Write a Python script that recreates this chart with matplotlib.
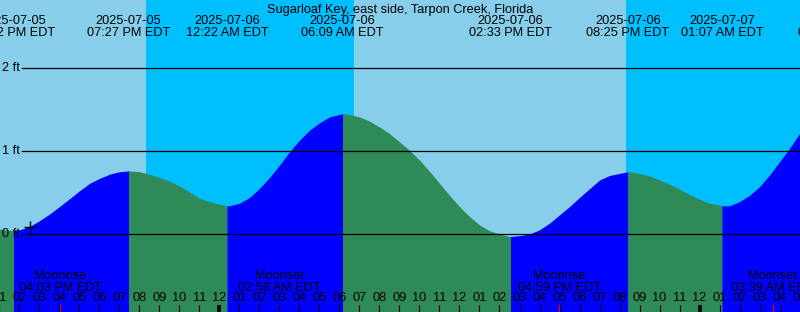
# Tide graph for Sugarloaf Key, east side, Tarpon Creek (XTide style)
import numpy as np
import matplotlib.pyplot as plt
import matplotlib.transforms as mtransforms

plt.rcParams['font.family'] = ['Liberation Sans', 'DejaVu Sans']

title = 'Sugarloaf Key, east side, Tarpon Creek, Florida'

# hours counted from 2025-07-05 00:00 EDT, readings every half hour
hour_start = 13
halfhour_height = [
    0.06, 0.045, 0.05, 0.09, 0.16, 0.24, 0.33, 0.425, 0.52, 0.61,   # 13:00-17:30
    0.67, 0.72, 0.75, 0.76, 0.75, 0.72, 0.68, 0.635, 0.58, 0.505,   # 18:00-22:30
    0.43, 0.39, 0.36, 0.34, 0.37, 0.44, 0.55, 0.68, 0.83, 0.99,     # 23:00-03:30
    1.13, 1.25, 1.34, 1.41, 1.44, 1.44, 1.41, 1.36, 1.29, 1.21,     # 04:00-08:30
    1.11, 1.01, 0.89, 0.755, 0.61, 0.465, 0.33, 0.21, 0.11, 0.04,   # 09:00-13:30
    0.00, -0.03, -0.02, 0.00, 0.05, 0.13, 0.23, 0.33, 0.44, 0.545,  # 14:00-18:30
    0.65, 0.705, 0.73, 0.75, 0.73, 0.70, 0.65, 0.60, 0.54, 0.475,   # 19:00-23:30
    0.42, 0.37, 0.35, 0.34, 0.39, 0.465, 0.57, 0.71, 0.87, 1.03,    # 00:00-04:30
    1.21]                                                           # 05:00

# high / low tide events
event_hour = [13.70, 19.45, 24.37, 30.15, 38.55, 44.42, 49.12, 54.98]
event_height = [0.04, 0.76, 0.34, 1.45, -0.03, 0.75, 0.34, 1.50]
event_date = ['2025-07-05', '2025-07-05', '2025-07-06', '2025-07-06',
              '2025-07-06', '2025-07-06', '2025-07-07', '2025-07-07']
event_time = ['01:42 PM EDT', '07:27 PM EDT', '12:22 AM EDT', '06:09 AM EDT',
              '02:33 PM EDT', '08:25 PM EDT', '01:07 AM EDT', '06:59 AM EDT']

# night periods (sunset -> sunrise)
night_start = [20.32, 44.32]
night_end = [30.72, 60.0]

# moon events
moon_hour = [16.05, 26.97, 40.98, 51.65]
moon_name = ['Moonrise', 'Moonset', 'Moonrise', 'Moonset']
moon_time = ['04:03 PM EDT', '02:58 AM EDT', '04:59 PM EDT', '03:39 AM EDT']

now_hour, now_height = 14.525, 0.08

W, H = 800, 312
fig = plt.figure(figsize=(8, 3.12), dpi=100)
ax = fig.add_axes([0, 0, 1, 1])
ax.set_axis_off()

x0 = hour_start + 0.5 / 20
x1 = x0 + 40
ax.set_xlim(x0, x1)
ax.set_ylim(-78 / 83, 234 / 83)

# pixel y -> axes fraction, data x
trans = mtransforms.blended_transform_factory(ax.transData, ax.transAxes)
def py(p):
    return 1 - p / H

day_col = '#87CEEB'
night_col = '#00BFFF'
ax.axvspan(x0, x1, color=day_col, zorder=0, lw=0)
for a, b in zip(night_start, night_end):
    ax.axvspan(a, b, color=night_col, zorder=0.5, lw=0)

# curve: half-hourly readings plus the extrema
hours = [hour_start + 0.5 * i for i in range(len(halfhour_height))]
t = np.array(hours + event_hour, dtype=float)
h = np.array(halfhour_height + event_height, dtype=float)
order = np.argsort(t)
t, h = t[order], h[order]

bounds = [x0 - 1] + event_hour + [x1 + 1]
bottom = -2
for i in range(len(bounds) - 1):
    a, b = bounds[i], bounds[i + 1]
    m = (t >= a) & (t <= b)
    # rising if the segment ends at a high tide
    if i < len(event_hour):
        rising = event_height[i] > (event_height[i - 1] if i > 0 else 0.2)
    else:
        rising = event_height[-1] > event_height[-2]
    col = '#0000FF' if rising else '#2E8B57'
    ax.fill_between(t[m], bottom, h[m], color=col, lw=0, zorder=1)

fs = 9.2

# height lines
for lev in [0, 1, 2]:
    ax.plot([x0 + 22 / 20, x1], [lev, lev], color='black', lw=0.9, zorder=2)
    ax.text(x0 + 2.5 / 20, lev, f'{lev} ft', fontsize=fs, ha='left',
            va='center', zorder=3)

ax.plot(now_hour, now_height, marker='+', color='black', ms=9, mew=1.0,
        zorder=3)

ax.text(x0 + 20, py(12.5), title, transform=trans, ha='center',
        va='baseline', fontsize=fs, zorder=3)
for x, d, tm in zip(event_hour, event_date, event_time):
    ax.text(x, py(24.5), d, transform=trans, ha='center', va='baseline',
            fontsize=fs, zorder=3)
    ax.text(x, py(36.5), tm, transform=trans, ha='center', va='baseline',
            fontsize=fs, zorder=3)

for x, n, tm in zip(moon_hour, moon_name, moon_time):
    ax.text(x, py(279), n, transform=trans, ha='center', va='baseline',
            fontsize=fs, zorder=3)
    ax.text(x, py(291), tm, transform=trans, ha='center', va='baseline',
            fontsize=fs, zorder=3)
    ax.plot([x, x], [py(305), py(312)], transform=trans, color='red',
            lw=0.8, zorder=3)

# hour ticks and labels
for hr in range(hour_start, hour_start + 41):
    lab = f'{(hr - 1) % 12 + 1:02d}'
    ax.text(hr, py(301), lab, transform=trans, ha='center', va='baseline',
            fontsize=fs, zorder=3)
    lw = 2.6 if hr % 24 == 0 else 0.8
    ax.plot([hr, hr], [py(305), py(312)], transform=trans, color='black',
            lw=lw, solid_capstyle='butt', zorder=3)

plt.savefig('out.png', dpi=100)
